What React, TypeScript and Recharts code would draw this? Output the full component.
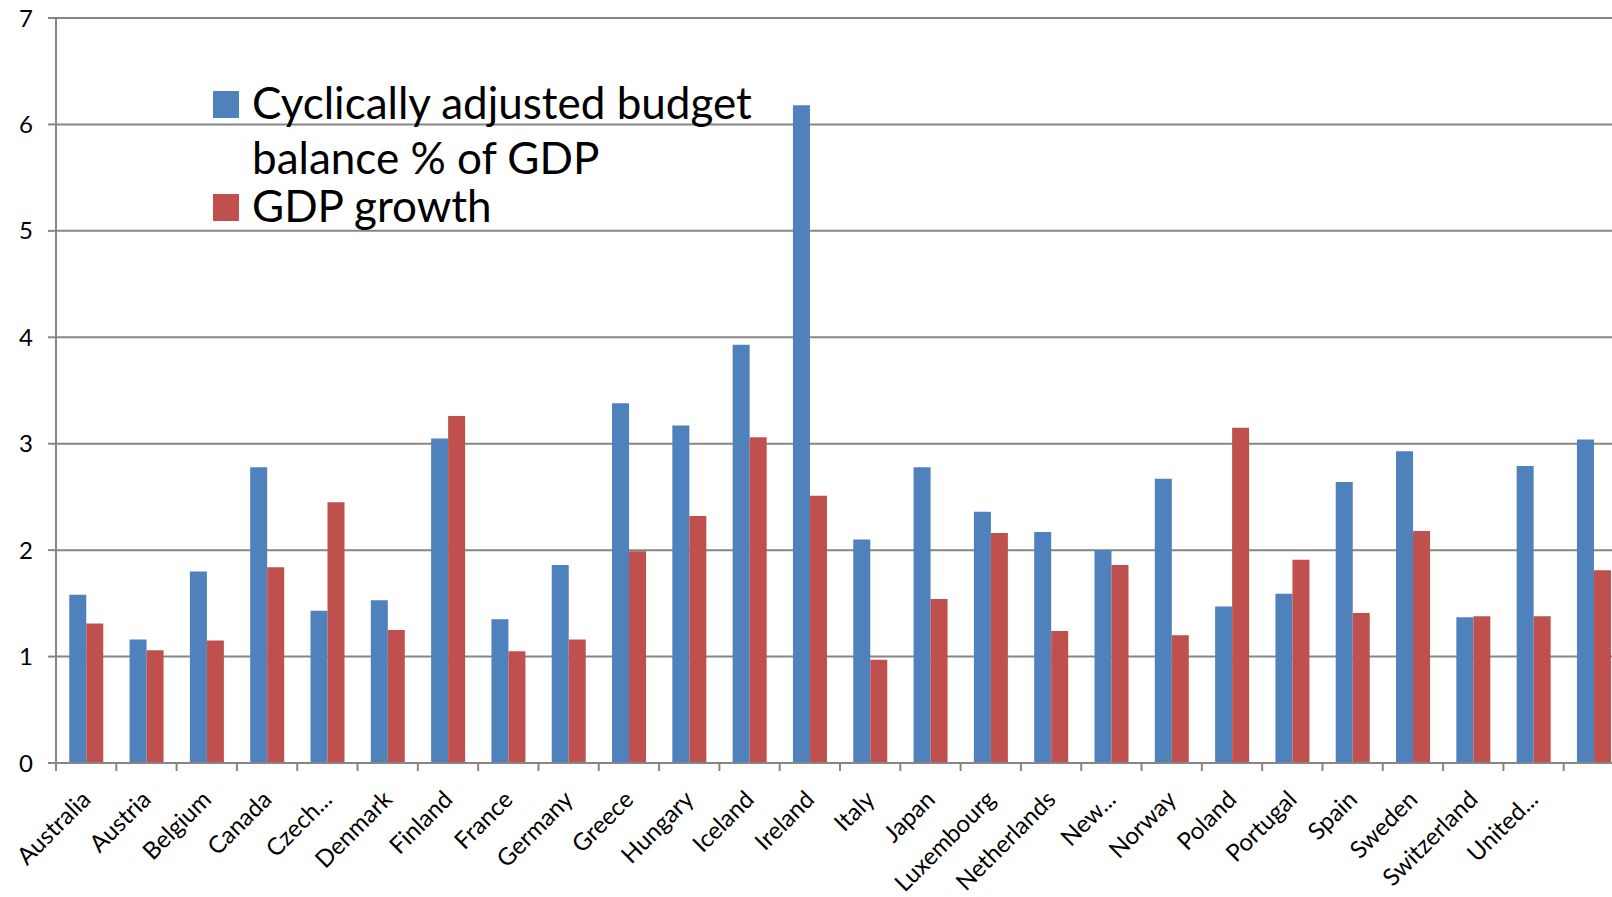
import { BarChart, Bar, XAxis, YAxis, CartesianGrid, Legend } from "recharts";

const countries = [
  "Australia", "Austria", "Belgium", "Canada", "Czech Republic", "Denmark",
  "Finland", "France", "Germany", "Greece", "Hungary", "Iceland", "Ireland",
  "Italy", "Japan", "Luxembourg", "Netherlands", "New Zealand", "Norway",
  "Poland", "Portugal", "Spain", "Sweden", "Switzerland", "United Kingdom",
  "United States",
];

// labels as they appear under the axis (Excel truncates long names)
const tickLabels = [
  "Australia", "Austria", "Belgium", "Canada", "Czech...", "Denmark",
  "Finland", "France", "Germany", "Greece", "Hungary", "Iceland", "Ireland",
  "Italy", "Japan", "Luxembourg", "Netherlands", "New...", "Norway",
  "Poland", "Portugal", "Spain", "Sweden", "Switzerland", "United...", "",
];

const budgetBalance = [
  1.58, 1.16, 1.8, 2.78, 1.43, 1.53, 3.05, 1.35, 1.86, 3.38, 3.17, 3.93, 6.18,
  2.1, 2.78, 2.36, 2.17, 2.0, 2.67, 1.47, 1.59, 2.64, 2.93, 1.37, 2.79, 3.04,
];

const gdpGrowth = [
  1.31, 1.06, 1.15, 1.84, 2.45, 1.25, 3.26, 1.05, 1.16, 1.99, 2.32, 3.06, 2.51,
  0.97, 1.54, 2.16, 1.24, 1.86, 1.2, 3.15, 1.91, 1.41, 2.18, 1.38, 1.38, 1.81,
];

const yTicks = [0, 1, 2, 3, 4, 5, 6, 7];

const data = countries.map((c, i) => ({
  country: c,
  budget: budgetBalance[i],
  growth: gdpGrowth[i],
}));

const FONT = "Lato, 'Open Sans', sans-serif";
const GRID = "#868686";
const PLOT_W = 1568;
const BAND = PLOT_W / countries.length;

// tick line sits on the category boundary (Excel style), label rotated -45°
function XTick(props: any) {
  const { x, y, index } = props;
  const label = tickLabels[index] ?? "";
  return (
    <g transform={`translate(${x},${y})`}>
      <line x1={-BAND / 2} x2={-BAND / 2} y1={0} y2={8} stroke={GRID} strokeWidth={2} />
      <text
        x={0}
        y={0}
        textAnchor="end"
        transform="translate(6, 38) rotate(-45)"
        fontSize={24}
        fontFamily={FONT}
        fill="#000"
      >
        {label}
      </text>
    </g>
  );
}

function LegendBox(props: any) {
  const { payload } = props;
  return (
    <div style={{ fontFamily: FONT, fontSize: 44, color: "#000" }}>
      {(payload || []).map((entry: any, i: number) => (
        <div
          key={entry.value}
          style={{
            display: "flex",
            alignItems: "flex-start",
            lineHeight: i === 0 ? "55px" : "40px",
          }}
        >
          <span
            style={{
              display: "inline-block",
              width: 26,
              height: 27,
              background: entry.color,
              marginTop: i === 0 ? 16 : 9,
              marginRight: 13,
              flexShrink: 0,
            }}
          />
          <span style={{ width: 540 }}>{entry.value}</span>
        </div>
      ))}
    </div>
  );
}

export default function App() {
  return (
    <div
      style={{
        position: "fixed",
        top: 0,
        left: 0,
        width: 1612,
        height: 897,
        overflow: "hidden",
        background: "#fff",
      }}
    >
      <BarChart
        width={56 + PLOT_W + 16}
        height={897}
        data={data}
        margin={{ top: 18, right: 16, bottom: 0, left: 0 }}
        barCategoryGap="22%"
        barGap={0}
      >
        <CartesianGrid horizontal vertical={false} stroke={GRID} strokeWidth={2} />
        <XAxis
          dataKey="country"
          interval={0}
          height={134}
          tickLine={false}
          tickSize={0}
          tickMargin={0}
          axisLine={{ stroke: GRID, strokeWidth: 2 }}
          tick={<XTick />}
        />
        <YAxis
          width={56}
          domain={[0, 7]}
          ticks={yTicks}
          interval={0}
          tickSize={8}
          tickMargin={15}
          tickLine={{ stroke: GRID, strokeWidth: 2 }}
          axisLine={{ stroke: GRID, strokeWidth: 2 }}
          tick={{ fontSize: 24, fontFamily: FONT, fill: "#000" }}
        />
        <Legend
          layout="vertical"
          align="center"
          verticalAlign="middle"
          content={<LegendBox />}
          wrapperStyle={{ position: "absolute", top: 75, left: 213, width: 600 }}
        />
        <Bar
          dataKey="budget"
          name="Cyclically adjusted budget balance % of GDP"
          fill="#4F81BD"
          isAnimationActive={false}
        />
        <Bar
          dataKey="growth"
          name="GDP growth"
          fill="#C0504D"
          isAnimationActive={false}
        />
      </BarChart>
    </div>
  );
}
